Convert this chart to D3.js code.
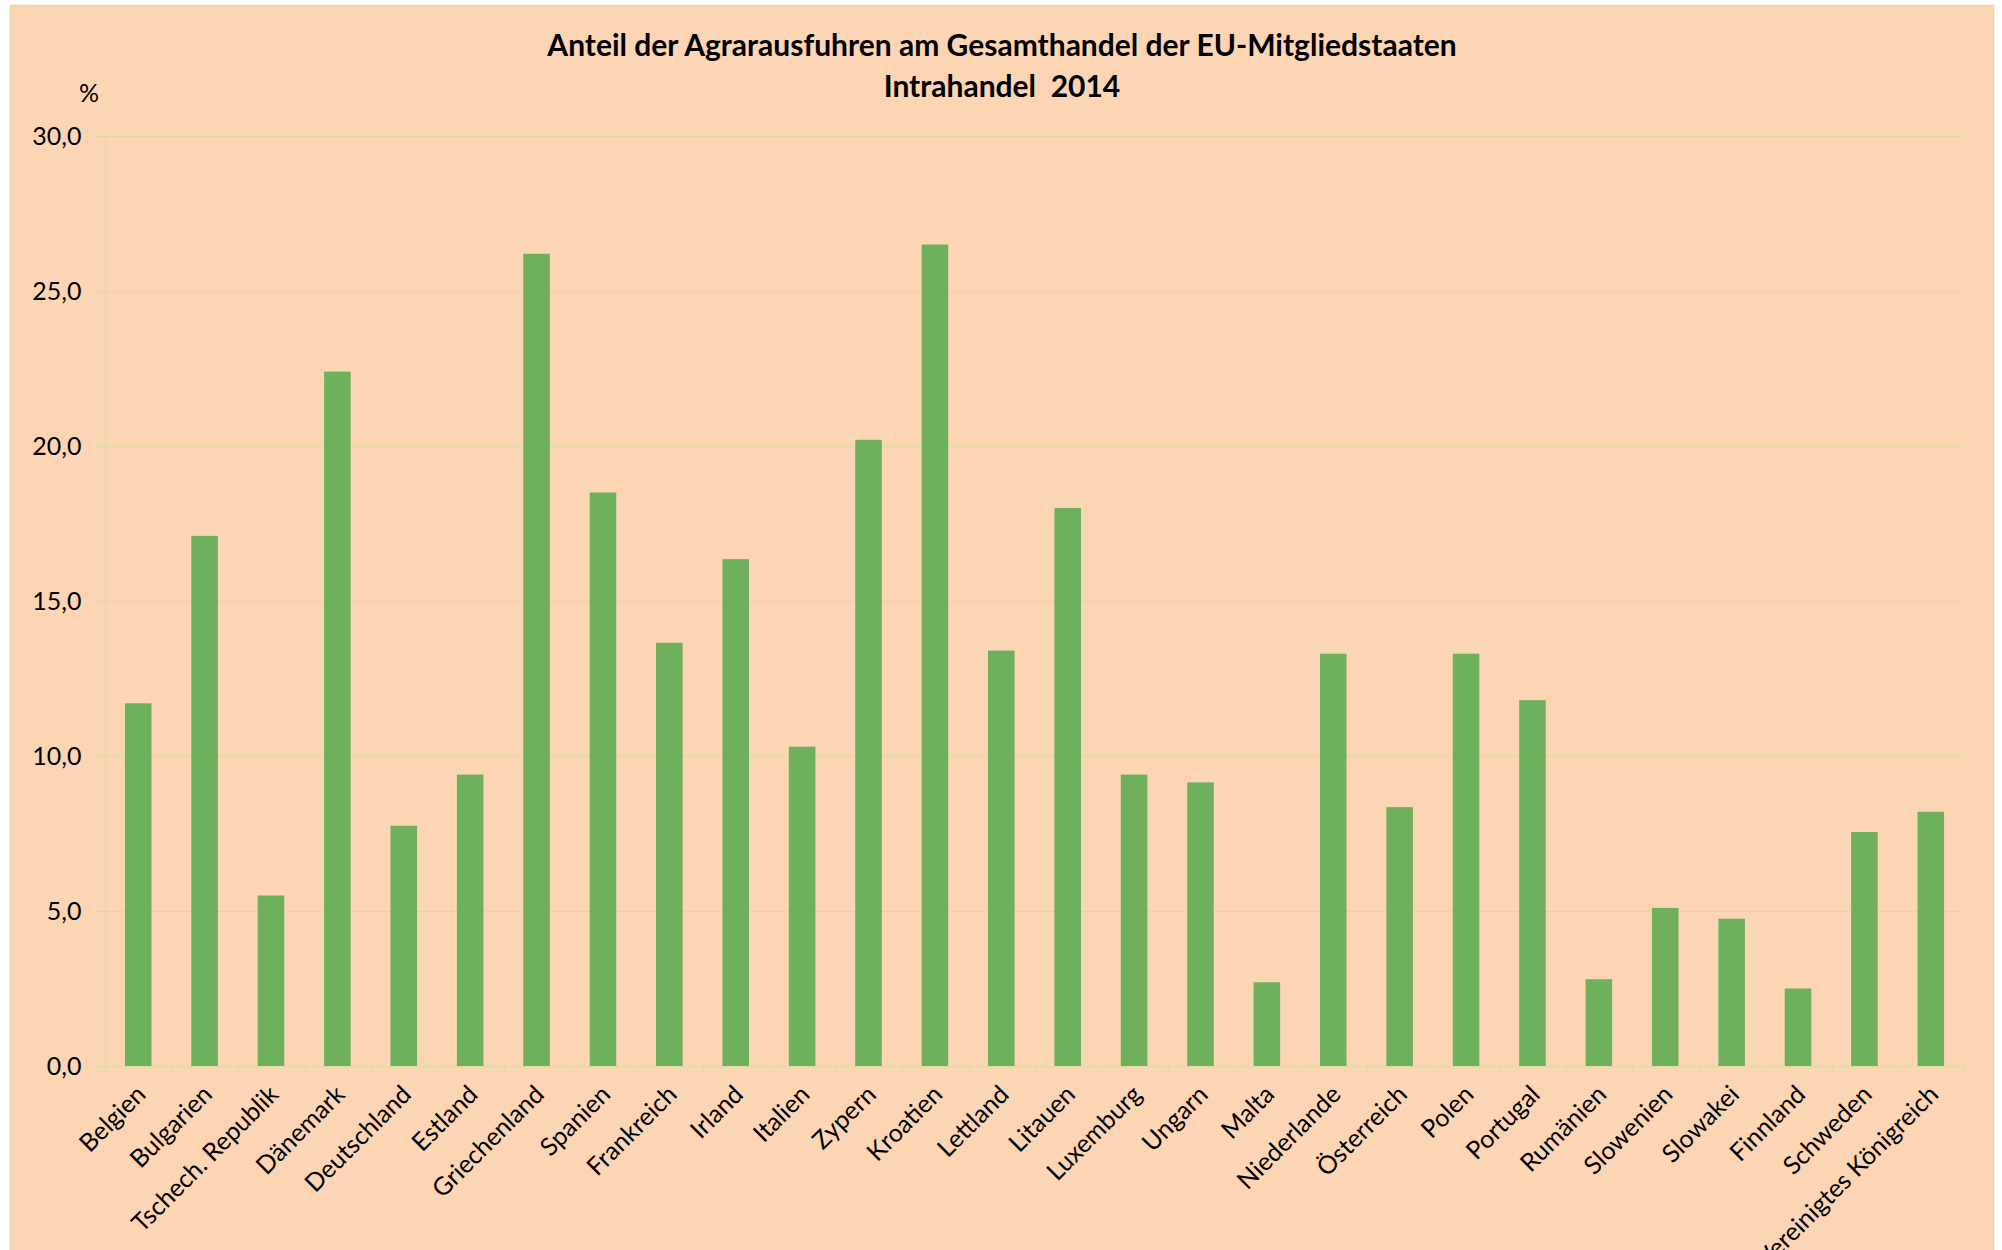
<!DOCTYPE html>
<html>
<head>
<meta charset="utf-8">
<script src="https://cdn.jsdelivr.net/npm/d3@7"></script>
<style>
  body { margin: 0; background: #fff; }
  svg { display: block; }
</style>
</head>
<body>
<script>
  // ----- data -----
  const countries = ["Belgien", "Bulgarien", "Tschech. Republik", "Dänemark", "Deutschland", "Estland",
    "Griechenland", "Spanien", "Frankreich", "Irland", "Italien", "Zypern", "Kroatien", "Lettland",
    "Litauen", "Luxemburg", "Ungarn", "Malta", "Niederlande", "Österreich", "Polen", "Portugal",
    "Rumänien", "Slowenien", "Slowakei", "Finnland", "Schweden", "Vereinigtes Königreich"];
  const shares = [11.7, 17.1, 5.5, 22.4, 7.75, 9.4, 26.2, 18.5, 13.65, 16.35, 10.3, 20.2, 26.5, 13.4,
    18.0, 9.4, 9.15, 2.7, 13.3, 8.35, 13.3, 11.8, 2.8, 5.1, 4.75, 2.5, 7.55, 8.2];
  const yTicks = [0, 5, 10, 15, 20, 25, 30];
  const titleLines = ["Anteil der Agrarausfuhren am Gesamthandel der EU-Mitgliedstaaten", "Intrahandel  2014"];

  const W = 2002, H = 1250;
  const font = "Lato, 'Open Sans', sans-serif";
  const gridColor = "#d9dc9c";

  const svg = d3.select("body").append("svg")
    .attr("width", W).attr("height", H);

  // chart area
  svg.append("rect")
    .attr("x", 10.5).attr("y", 5.5)
    .attr("width", 1983).attr("height", 1260)
    .attr("fill", "#fcd5b5")
    .attr("stroke", "#e3dca0").attr("stroke-width", 1.5);

  const x = d3.scaleBand().domain(countries).range([105, 1964]).paddingInner(0.6).paddingOuter(0.3);
  const y = d3.scaleLinear().domain([0, 30]).range([1066, 136]);

  // gridlines
  svg.append("g")
    .selectAll("line")
    .data(yTicks.slice(1))
    .join("line")
      .attr("x1", 105).attr("x2", 1964)
      .attr("y1", d => y(d) + 0.5).attr("y2", d => y(d) + 0.5)
      .attr("stroke", gridColor).attr("stroke-width", 1);

  // bars
  svg.append("g")
    .selectAll("rect")
    .data(countries)
    .join("rect")
      .attr("x", d => x(d))
      .attr("y", (d, i) => y(shares[i]))
      .attr("width", x.bandwidth())
      .attr("height", (d, i) => y(0) - y(shares[i]))
      .attr("fill", "#6eb05c");

  // y axis
  const yAxis = svg.append("g")
    .attr("transform", "translate(105.5,0)")
    .call(d3.axisLeft(y).tickValues(yTicks).tickSize(8).tickPadding(16)
      .tickFormat(d => d3.format(".1f")(d).replace(".", ",")));
  yAxis.select(".domain").attr("stroke", gridColor);
  yAxis.selectAll(".tick line").attr("stroke", gridColor);
  yAxis.selectAll("text").attr("font-family", font).attr("font-size", 25).attr("fill", "#000");

  // x axis (ticks on band boundaries)
  const xb = d3.scalePoint().domain(d3.range(countries.length + 1)).range([105, 1964]);
  const xAxis = svg.append("g")
    .attr("transform", "translate(0,1066.5)")
    .call(d3.axisBottom(xb).tickSize(8).tickFormat(""));
  xAxis.select(".domain").attr("stroke", gridColor).attr("d", "M105,0H1964");
  xAxis.selectAll(".tick line").attr("stroke", gridColor).attr("transform", "translate(0.5,0)");

  // category labels
  svg.append("g")
    .selectAll("text")
    .data(countries)
    .join("text")
      .attr("transform", d => `translate(${x(d) + x.bandwidth() / 2 + 9},${1096}) rotate(-45)`)
      .attr("text-anchor", "end")
      .attr("font-family", font).attr("font-size", 25)
      .attr("fill", "#000")
      .text(d => d);

  // unit
  svg.append("text")
    .attr("x", 89).attr("y", 102)
    .attr("text-anchor", "middle")
    .attr("font-family", font).attr("font-size", 25)
    .text("%");

  // title
  svg.append("g")
    .selectAll("text")
    .data(titleLines)
    .join("text")
      .attr("x", 1002).attr("y", (d, i) => 56 + i * 41)
      .attr("text-anchor", "middle")
      .attr("font-family", font).attr("font-weight", "bold").attr("font-size", 30)
      .attr("fill", "#000")
      .style("white-space", "pre")
      .text(d => d);
</script>
</body>
</html>
